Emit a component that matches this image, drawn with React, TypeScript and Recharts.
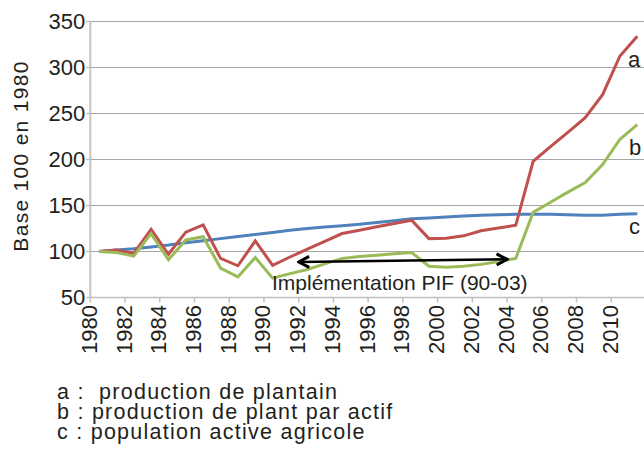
import { CartesianGrid, Line, LineChart, ReferenceLine, XAxis, YAxis } from "recharts";

const years = [
  1980, 1981, 1982, 1983, 1984, 1985, 1986, 1987, 1988, 1989, 1990, 1991, 1992, 1993, 1994, 1995,
  1996, 1997, 1998, 1999, 2000, 2001, 2002, 2003, 2004, 2005, 2006, 2007, 2008, 2009, 2010, 2011,
];

// a : production de plantain
const productionPlantain = [
  100, 101.5, 98, 124, 97, 121, 129, 92.5, 84.5, 111.5, 85, 94, 102.5, 111, 119.5, 123,
  127, 130.5, 134, 114, 114.5, 117, 122.5, 125.5, 128.5, 198, 214, 229.5, 245.5, 270.5, 312.5, 334,
];

// b : production de plant par actif
const productionParActif = [
  100, 99, 95, 119.5, 91, 112.5, 116, 82, 72.5, 93.5, 71, 76, 80.5, 86.5, 92.5, 94.5,
  96, 97.5, 99, 84, 83, 84, 86, 89, 92.5, 142.5, 153.5, 164.5, 175, 194.5, 222, 238,
];

// c : population active agricole
const populationActive = [
  100, 101.5, 103, 105, 107, 109.5, 111.6, 114, 116.4, 118.6, 120.7, 123, 125, 126.5, 128, 129.5,
  131.5, 133.5, 135.5, 136.5, 137.5, 138.5, 139.5, 140, 140.5, 140.5, 140.5, 140, 139.5, 139.5, 140.5, 141,
];

const yTicks = [50, 100, 150, 200, 250, 300, 350];
// category boundaries, labelled with the year that follows
const xTicks = [
  1979.5, 1981.5, 1983.5, 1985.5, 1987.5, 1989.5, 1991.5, 1993.5, 1995.5, 1997.5, 1999.5,
  2001.5, 2003.5, 2005.5, 2007.5, 2009.5,
];

// PIF period arrow (ends in data coordinates)
const pifArrow = [
  { x: 1991.5, y: 88.6 },
  { x: 2003.5, y: 91.5 },
];

const legendLines = [
  "a :  production de plantain",
  "b : production de plant par actif",
  "c : population active agricole",
];

const data = years.map((year, i) => ({
  year,
  a: productionPlantain[i],
  b: productionParActif[i],
  c: populationActive[i],
}));

const FONT = '"Liberation Sans", Arial, Helvetica, sans-serif';
const TEXT = "#231f20";

function YearTick({ x, y, payload }: { x: number; y: number; payload: { value: number } }) {
  return (
    <text
      transform={`translate(${x + 6.5},${y + 0.5}) rotate(-90)`}
      textAnchor="end"
      fontSize={22}
      fontFamily={FONT}
      fill={TEXT}
    >
      {payload.value + 0.5}
    </text>
  );
}

function ArrowShape(p: { x1?: number; y1?: number; x2?: number; y2?: number }) {
  return (
    <g>
      <defs>
        <marker
          id="pif-head"
          viewBox="0 0 14 14"
          refX={12}
          refY={7}
          markerWidth={14}
          markerHeight={14}
          markerUnits="userSpaceOnUse"
          orient="auto-start-reverse"
        >
          <path d="M1.5,1.5 L12,7 L1.5,12.5" fill="none" stroke="#000" strokeWidth={3} />
        </marker>
      </defs>
      <line
        x1={p.x1}
        y1={p.y1}
        x2={p.x2}
        y2={p.y2}
        stroke="#000"
        strokeWidth={2.6}
        markerStart="url(#pif-head)"
        markerEnd="url(#pif-head)"
      />
    </g>
  );
}

export default function App() {
  return (
    <div
      style={{
        position: "absolute",
        left: 0,
        top: 0,
        width: 644,
        height: 449,
        overflow: "hidden",
        background: "#fff",
        fontFamily: FONT,
      }}
    >
      <LineChart width={646} height={360} data={data} margin={{ top: 21.5, right: 0, bottom: 0, left: 0 }}>
        <CartesianGrid vertical={false} stroke="#a6a6a6" strokeWidth={1} />
        <XAxis
          dataKey="year"
          type="number"
          domain={[1979.5, 2011.5]}
          ticks={xTicks}
          interval={0}
          height={62.5}
          tickSize={5}
          tickMargin={2}
          axisLine={{ stroke: "#bfbfbf", strokeWidth: 1.5 }}
          tickLine={{ stroke: "#bfbfbf", strokeWidth: 1.5 }}
          tick={YearTick}
        />
        <YAxis
          domain={[50, 350]}
          ticks={yTicks}
          interval={0}
          width={90.3}
          tickSize={4}
          tickMargin={1}
          axisLine={{ stroke: "#c4c4c4", strokeWidth: 2 }}
          tickLine={{ stroke: "#bfbfbf", strokeWidth: 1.5 }}
          tick={{ fill: TEXT, fontSize: 22, fontFamily: FONT }}
        />
        <Line type="linear" dataKey="c" stroke="#4f81bd" strokeWidth={3} dot={false} isAnimationActive={false} />
        <Line type="linear" dataKey="a" stroke="#c0504d" strokeWidth={3} dot={false} isAnimationActive={false} />
        <Line type="linear" dataKey="b" stroke="#9bbb59" strokeWidth={3} dot={false} isAnimationActive={false} />
        <ReferenceLine segment={pifArrow} shape={ArrowShape} />
      </LineChart>
      <svg
        width={644}
        height={449}
        style={{ position: "absolute", left: 0, top: 0, pointerEvents: "none" }}
        fontFamily={FONT}
        fill={TEXT}
      >
        <text
          transform="translate(28.3,156) rotate(-90)"
          textAnchor="middle"
          fontSize={21}
          letterSpacing={1.3}
        >
          Base 100 en 1980
        </text>
        <text x={272} y={290} fontSize={21}>
          Implémentation PIF (90-03)
        </text>
        <text x={628} y={67} fontSize={22}>a</text>
        <text x={629} y={155} fontSize={22}>b</text>
        <text x={629} y={233.5} fontSize={22}>c</text>
        {legendLines.map((line, i) => (
          <text
            key={line}
            x={57}
            y={398.5 + i * 20}
            fontSize={21.5}
            letterSpacing={1.25}
            style={{ whiteSpace: "pre" }}
          >
            {line}
          </text>
        ))}
      </svg>
    </div>
  );
}
